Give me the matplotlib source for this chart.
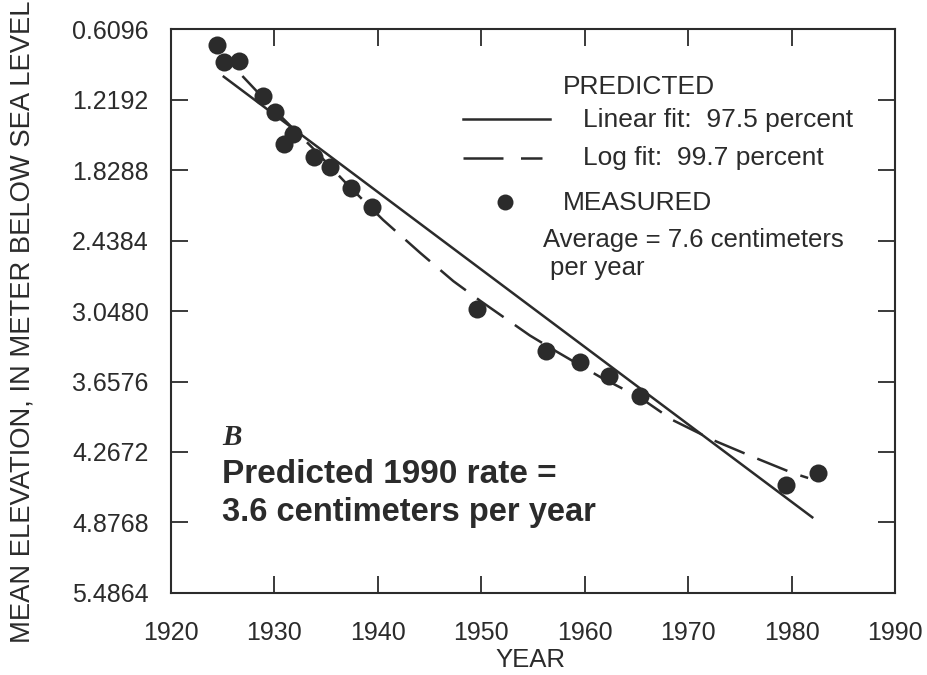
import matplotlib
matplotlib.use("Agg")
import matplotlib.pyplot as plt

# measured mean elevations (m below sea level)
years = [1924.4, 1925.1, 1926.6, 1928.9, 1930.1, 1930.9, 1931.8, 1933.8, 1935.4,
         1937.4, 1939.4, 1949.6, 1956.3, 1959.5, 1962.3, 1965.3, 1979.5, 1982.6]
elev = [0.748, 0.892, 0.886, 1.189, 1.325, 1.604, 1.518, 1.719, 1.800,
        1.987, 2.146, 3.033, 3.391, 3.486, 3.610, 3.783, 4.552, 4.446]

# predicted curves
lin_years = [1925.1, 1982.0]
lin_elev = [1.022, 4.832]

log_years = [1926.9, 1930.0, 1933.6, 1937.0, 1940.5, 1944.1, 1947.3, 1949.9,
             1954.7, 1957.3, 1961.5, 1965.4, 1968.5, 1972.4, 1976.3, 1980.1, 1981.6]
log_elev = [1.016, 1.310, 1.630, 1.950, 2.260, 2.546, 2.790, 2.960,
            3.260, 3.400, 3.619, 3.800, 3.991, 4.164, 4.311, 4.449, 4.492]

xticks = [1920, 1930, 1940, 1950, 1960, 1970, 1980, 1990]
ytick_labels = ["0.6096", "1.2192", "1.8288", "2.4384", "3.0480",
                "3.6576", "4.2672", "4.8768", "5.4864"]
yticks = [float(s) for s in ytick_labels]

ink = "#2b2b2b"
plt.rcParams["font.family"] = ["Liberation Sans", "DejaVu Sans"]
plt.rcParams["text.color"] = ink

fig = plt.figure(figsize=(9.27, 6.75), dpi=100)
ax = fig.add_axes([0.1845, 0.1215, 0.781, 0.8355])

ax.plot(lin_years, lin_elev, color=ink, lw=1.8)
ax.plot(log_years, log_elev, color=ink, lw=1.8, linestyle=(0, (13, 5.5)))
ax.plot(years, elev, "o", color=ink, markersize=13, markeredgewidth=0)

ax.set_xlim(1920, 1990)
ax.set_ylim(5.4864, 0.6096)
ax.set_xticks(xticks)
ax.set_yticks(yticks)
ax.set_yticklabels(ytick_labels)
ax.tick_params(direction="in", length=12, width=1.3, colors=ink, labelsize=18,
               top=True, right=True)
ax.tick_params(axis="y", pad=16)
ax.tick_params(axis="x", pad=20)
for s in ax.spines.values():
    s.set_linewidth(1.5)
    s.set_color(ink)

fig.text(0.024, 0.523, "MEAN ELEVATION, IN METER BELOW SEA LEVEL", rotation=90,
         ha="center", va="center", fontsize=19.7)
fig.text(0.572, 0.022, "YEAR", ha="center", va="center", fontsize=18.5)

# legend drawn by hand to match the layout
tr = ax.transAxes
ax.plot([0.403, 0.5235], [0.840, 0.840], color=ink, lw=1.8, transform=tr, clip_on=False)
ax.plot([0.403, 0.513], [0.772, 0.772], color=ink, lw=1.8, transform=tr,
        linestyle=(0, (16, 7)), clip_on=False)
ax.plot([0.461], [0.693], "o", color=ink, markersize=11.5, markeredgewidth=0, transform=tr)
ax.text(0.5414, 0.897, "PREDICTED", transform=tr, fontsize=19, va="center")
ax.text(0.569, 0.838, "Linear fit:  97.5 percent", transform=tr, fontsize=19, va="center")
ax.text(0.569, 0.771, "Log fit:  99.7 percent", transform=tr, fontsize=19, va="center")
ax.text(0.5414, 0.6915, "MEASURED", transform=tr, fontsize=19, va="center")
ax.text(0.5138, 0.626, "Average = 7.6 centimeters", transform=tr, fontsize=18.5, va="center")
ax.text(0.523, 0.576, "per year", transform=tr, fontsize=18.5, va="center")

ax.text(0.0704, 0.275, "B", transform=tr, fontsize=21, va="center",
        family="Liberation Serif", fontweight="bold", fontstyle="italic")
ax.text(0.0704, 0.210, "Predicted 1990 rate =", transform=tr, fontsize=24,
        va="center", fontweight="bold")
ax.text(0.0704, 0.143, "3.6 centimeters per year", transform=tr, fontsize=23.5,
        va="center", fontweight="bold")

fig.savefig("out.png", dpi=100, facecolor="white")
